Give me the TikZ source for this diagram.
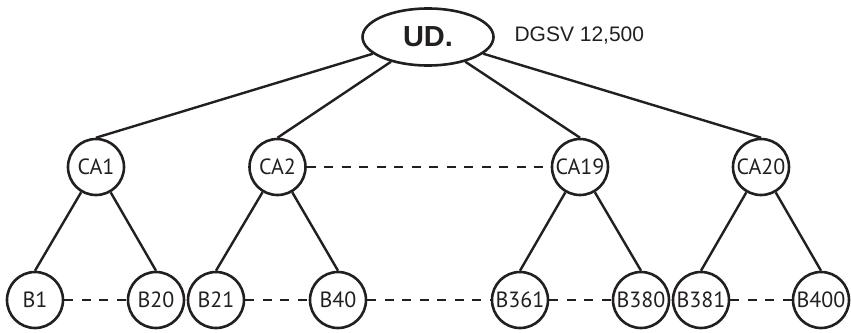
\documentclass[tikz,border=0pt]{standalone}
\usepackage{fontspec}
\setmainfont{Liberation Sans}
\newfontfamily\circfont{PT Sans}
\usetikzlibrary{shapes.geometric}
\definecolor{ink}{HTML}{231F20}
\tikzset{
  circnode/.style={circle, draw=ink, line width=2.6pt, minimum size=56pt, inner sep=0pt,
    font=\circfont\fontsize{22}{24}\selectfont, text=ink},
  rootnode/.style={ellipse, draw=ink, line width=2.6pt, minimum width=131pt, minimum height=57pt, inner sep=0pt,
    font=\bfseries\fontsize{29}{30}\selectfont, text=ink},
  edge/.style={draw=ink, line width=2.4pt},
  dotted link/.style={draw=ink, line width=2pt, dash pattern=on 9pt off 8.5pt}
}
\begin{document}
\begin{tikzpicture}[x=1pt, y=-1pt]
\useasboundingbox (0,0) rectangle (851,332);
\node[rootnode] (ud) at (428,37) {UD.};
\node[anchor=west, font=\fontsize{21}{22}\selectfont, text=ink] (dgsv) at (511,36) {DGSV 12,500};
\node[circnode] (ca1) at (96,167) {CA1};
\node[circnode] (ca2) at (277.5,167) {CA2};
\node[circnode] (ca19) at (580,167) {CA19};
\node[circnode] (ca20) at (761,167) {CA20};
\node[circnode] (b1) at (35,300) {B1};
\node[circnode] (b20) at (156,300) {B20};
\node[circnode] (b21) at (216,300) {B21};
\node[circnode] (b40) at (338,300) {B40};
\node[circnode] (b361) at (520,300) {B361};
\node[circnode] (b380) at (641,300) {B380};
\node[circnode] (b381) at (701,300) {B381};
\node[circnode] (b400) at (821,300) {B400};
\foreach \c in {ca1,ca2,ca19,ca20} \draw[edge] (ud) -- (\c.north);
\draw[edge] (ca1) -- (b1.north);
\draw[edge] (ca1) -- (b20.north);
\draw[edge] (ca2) -- (b21.north);
\draw[edge] (ca2) -- (b40.north);
\draw[edge] (ca19) -- (b361.north);
\draw[edge] (ca19) -- (b380.north);
\draw[edge] (ca20) -- (b381.north);
\draw[edge] (ca20) -- (b400.north);
\draw[dotted link] (ca2) -- (ca19);
\draw[dotted link] (b1) -- (b20);
\draw[dotted link] (b21) -- (b40);
\draw[dotted link] (b40) -- (b361);
\draw[dotted link] (b361) -- (b380);
\draw[dotted link] (b381) -- (b400);
\end{tikzpicture}
\end{document}
